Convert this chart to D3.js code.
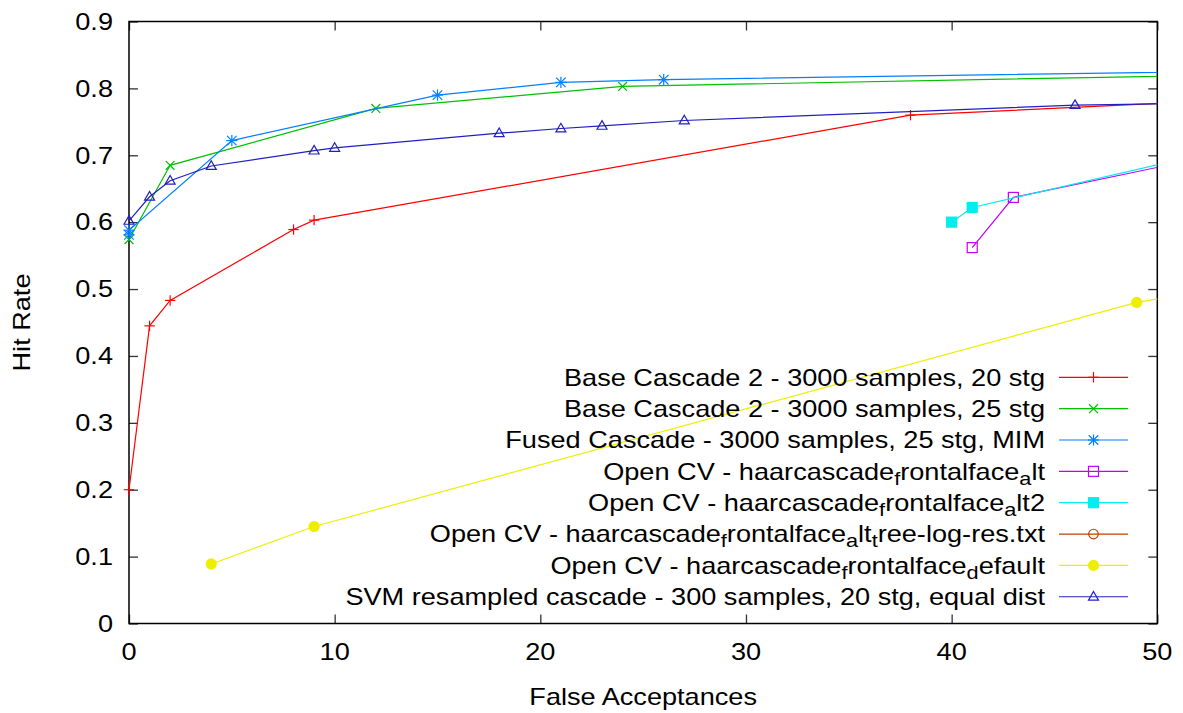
<!DOCTYPE html>
<html><head><meta charset="utf-8">
<script src="https://cdn.jsdelivr.net/npm/d3@7"></script>
<style>body{margin:0;background:#fff} text{font-family:"Liberation Sans",Arial,Helvetica,sans-serif}</style>
</head><body><svg id="c" width="1183" height="713"></svg>
<script>
// ---- data ----
const xTicks = [0, 10, 20, 30, 40, 50];
const xTickLabels = ["0", "10", "20", "30", "40", "50"];
const yTicks = [0, 0.1, 0.2, 0.3, 0.4, 0.5, 0.6, 0.7, 0.8, 0.9];
const yTickLabels = ["0", "0.1", "0.2", "0.3", "0.4", "0.5", "0.6", "0.7", "0.8", "0.9"];
const xLabel = "False Acceptances";
const yLabel = "Hit Rate";

const seriesNames = [
  "Base Cascade 2 - 3000 samples, 20 stg",
  "Base Cascade 2 - 3000 samples, 25 stg",
  "Fused Cascade - 3000 samples, 25 stg, MIM",
  "Open CV - haarcascade_frontalface_alt",
  "Open CV - haarcascade_frontalface_alt2",
  "Open CV - haarcascade_frontalface_alt_tree-log-res.txt",
  "Open CV - haarcascade_frontalface_default",
  "SVM resampled cascade - 300 samples, 20 stg, equal dist"
];
const base20X = [0, 1, 2, 8, 9, 38, 100];
const base20Y = [0.200, 0.445, 0.483, 0.589, 0.603, 0.760, 0.850];
const base25X = [0, 2, 12, 24, 100];
const base25Y = [0.574, 0.685, 0.770, 0.803, 0.847];
const fusedX = [0, 0, 5, 15, 21, 26, 100];
const fusedY = [0.581, 0.588, 0.722, 0.790, 0.809, 0.813, 0.847];
const altX = [41, 43, 60];
const altY = [0.562, 0.637, 0.746];
const alt2X = [40, 41, 60];
const alt2Y = [0.600, 0.622, 0.757];
const altTreeX = [];
const altTreeY = [];
const defaultX = [4, 9, 49, 60];
const defaultY = [0.089, 0.145, 0.480, 0.535];
const svmX = [0, 1, 2, 4, 9, 10, 18, 21, 23, 27, 46, 100];
const svmY = [0.602, 0.638, 0.662, 0.684, 0.707, 0.711, 0.733, 0.740, 0.744, 0.752, 0.775, 0.800];

const seriesX = [base20X, base25X, fusedX, altX, alt2X, altTreeX, defaultX, svmX];
const seriesY = [base20Y, base25Y, fusedY, altY, alt2Y, altTreeY, defaultY, svmY];

// ---- styles ----
const colors = ["#ff0000", "#00c000", "#0080ff", "#c000ff", "#00eeee", "#c04000", "#eeee00", "#2020c0"];
const markers = ["plus", "cross", "star", "square", "squareF", "circle", "circleF", "triangle"];

const W = 1183, H = 713;
const L = 129, R = 1157.3, T = 21.5, B = 623.5;
const FS = 23, SX = 1.18;

const svg = d3.select("#c");
const x = d3.scaleLinear().domain([0, 50]).range([L, R]);
const y = d3.scaleLinear().domain([0, 0.9]).range([B, T]);

svg.append("defs").append("clipPath").attr("id", "plotclip")
  .append("rect").attr("x", L).attr("y", T).attr("width", R - L).attr("height", B - T);

function txt(g, px, py, str, anchor, rot) {
  const t = g.append("text")
    .attr("transform", `translate(${px},${py})` + (rot ? ` rotate(${rot})` : "") + ` scale(${SX},1)`)
    .attr("text-anchor", anchor).attr("dominant-baseline", "central")
    .attr("font-size", FS).attr("fill", "#000");
  // gnuplot enhanced text: "_c" => subscript c
  const parts = str.split("_");
  t.append("tspan").text(parts[0]);
  for (let i = 1; i < parts.length; i++) {
    const p = parts[i];
    t.append("tspan").attr("font-size", FS * 0.8).attr("dy", 7).text(p.charAt(0));
    t.append("tspan").attr("dy", -7).text(p.slice(1));
  }
  return t;
}

// axes (ticks mirrored, inward)
const tickLen = 9;
const axG = svg.append("g");
const xAxisB = d3.axisTop(x).tickValues(xTicks).tickSize(tickLen).tickFormat("");
const xAxisT = d3.axisBottom(x).tickValues(xTicks).tickSize(tickLen).tickFormat("");
const yAxisL = d3.axisRight(y).tickValues(yTicks).tickSize(tickLen).tickFormat("");
const yAxisR = d3.axisLeft(y).tickValues(yTicks).tickSize(tickLen).tickFormat("");
axG.append("g").attr("transform", `translate(0,${B})`).call(xAxisB);
axG.append("g").attr("transform", `translate(0,${T})`).call(xAxisT);
axG.append("g").attr("transform", `translate(${L},0)`).call(yAxisL);
axG.append("g").attr("transform", `translate(${R},0)`).call(yAxisR);
axG.selectAll(".domain").remove();
axG.selectAll(".tick line").attr("stroke", "#333").attr("stroke-width", 1.3);

svg.append("rect").attr("x", L).attr("y", T).attr("width", R - L).attr("height", B - T)
  .attr("fill", "none").attr("stroke", "#000").attr("stroke-width", 1.5);

const lblG = svg.append("g");
xTicks.forEach((v, i) => txt(lblG, x(v), 652, xTickLabels[i], "middle"));
yTicks.forEach((v, i) => txt(lblG, 113, y(v), yTickLabels[i], "end"));
txt(lblG, (L + R) / 2, 697, xLabel, "middle");
txt(lblG, 22, (T + B) / 2, yLabel, "middle", -90);

function drawMarker(g, type, cx, cy, color) {
  const s = type === "star" ? 5.6 : 5.2;
  const line = (x1, y1, x2, y2) => g.append("line").attr("x1", cx + x1).attr("y1", cy + y1)
    .attr("x2", cx + x2).attr("y2", cy + y2).attr("stroke", color).attr("stroke-width", 1.2);
  if (type === "plus" || type === "star") { line(-s, 0, s, 0); line(0, -s, 0, s); }
  if (type === "cross" || type === "star") { const d = s * 0.85; line(-d, -d, d, d); line(-d, d, d, -d); }
  if (type === "square") g.append("rect").attr("x", cx - 5).attr("y", cy - 5).attr("width", 10).attr("height", 10)
    .attr("fill", "none").attr("stroke", color).attr("stroke-width", 1.2);
  if (type === "squareF") g.append("rect").attr("x", cx - 5.6).attr("y", cy - 5.6).attr("width", 11.2).attr("height", 11.2)
    .attr("fill", color);
  if (type === "circle") g.append("circle").attr("cx", cx).attr("cy", cy).attr("r", 4.8)
    .attr("fill", "none").attr("stroke", color).attr("stroke-width", 1.2);
  if (type === "circleF") g.append("circle").attr("cx", cx).attr("cy", cy).attr("r", 5.6).attr("fill", color);
  if (type === "triangle") g.append("path")
    .attr("d", `M${cx},${cy - 5.2}L${cx + 5},${cy + 3.4}L${cx - 5},${cy + 3.4}Z`)
    .attr("fill", "none").attr("stroke", color).attr("stroke-width", 1.2);
}

const lineGen = d3.line().x(d => x(d[0])).y(d => y(d[1]));
const plotG = svg.append("g");
seriesNames.forEach((name, i) => {
  const pts = seriesX[i].map((v, j) => [v, seriesY[i][j]]);
  if (pts.length) {
    plotG.append("path").datum(pts).attr("d", lineGen).attr("clip-path", "url(#plotclip)")
      .attr("fill", "none").attr("stroke", colors[i]).attr("stroke-width", 1.2);
    const mg = plotG.append("g");
    pts.filter(p => p[0] >= 0 && p[0] <= 50 && p[1] >= 0 && p[1] <= 0.9)
      .forEach(p => drawMarker(mg, markers[i], x(p[0]), y(p[1]), colors[i]));
  }
});

// legend
const legG = svg.append("g");
const legY0 = 377.3, legDy = 31.35;
seriesNames.forEach((name, i) => {
  const ly = legY0 + i * legDy;
  txt(legG, 1045, ly, name, "end");
  legG.append("line").attr("x1", 1059).attr("x2", 1128).attr("y1", ly).attr("y2", ly)
    .attr("stroke", colors[i]).attr("stroke-width", 1.2);
  drawMarker(legG, markers[i], 1093.5, ly, colors[i]);
});
</script></body></html>
